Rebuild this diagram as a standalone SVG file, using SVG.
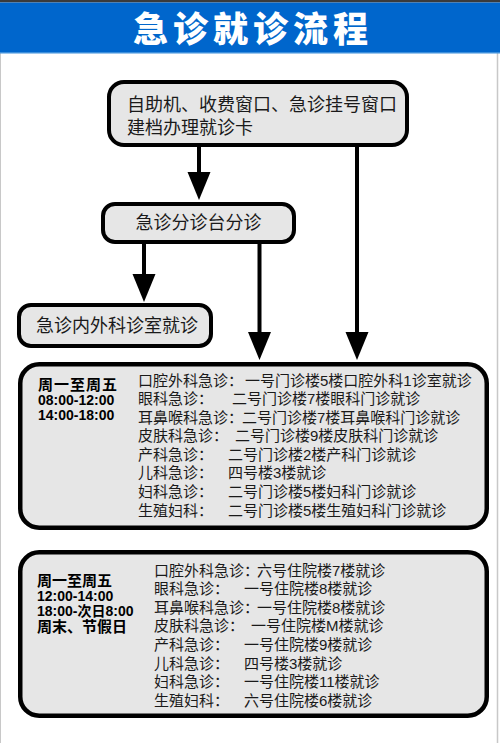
<svg xmlns="http://www.w3.org/2000/svg" width="500" height="743" viewBox="0 0 500 743">
  <style>
    .box { fill: #e6e6e6; stroke: #000; stroke-width: 4; }
    .big { fill: #e6e6e6; stroke: #000; stroke-width: 4.5; }
    .t { font-family: "Liberation Sans", "Noto Sans CJK SC", sans-serif; fill: #1a1a1a; }
    .n18 { font-size: 18px; }
    .row { font-size: 15px; }
    .hd { font-size: 15px; font-weight: bold; fill: #000; }
    .tm { font-size: 14px; font-weight: bold; fill: #000; }
    .title { font-family: "Liberation Sans", "Noto Sans CJK SC", sans-serif; font-size: 35px; font-weight: 900; fill: #fff; letter-spacing: 5px; }
    .conn { stroke: #000; stroke-width: 4; fill: none; }
  </style>
  <defs>
    <marker id="arrow" markerUnits="userSpaceOnUse" markerWidth="28" markerHeight="23" refX="18" refY="11.5" orient="auto" overflow="visible">
      <path d="M0,0 L28,11.5 L0,23 Z" fill="#000"/>
    </marker>
  </defs>
  <rect x="0" y="0" width="500" height="743" fill="#fff"/>
  <line x1="0.5" y1="53" x2="0.5" y2="743" stroke="#c8c8c8" stroke-width="1"/>
  <line x1="497.5" y1="53" x2="497.5" y2="743" stroke="#c8c8c8" stroke-width="1.5"/>

  <g id="title">
    <rect x="0" y="0" width="500" height="2.5" fill="#3a3a3a"/>
    <rect x="0" y="2.5" width="500" height="50" fill="#0066cc"/>
    <rect x="0" y="52" width="500" height="1.5" fill="#3d8fdc"/>
    <text class="title" x="253" y="41.5" text-anchor="middle">急诊就诊流程</text>
  </g>

  <g id="connectors">
    <line class="conn" x1="199" y1="147" x2="199" y2="190" marker-end="url(#arrow)"/>
    <line class="conn" x1="357" y1="147" x2="357" y2="350" marker-end="url(#arrow)"/>
    <line class="conn" x1="259.5" y1="244" x2="259.5" y2="350" marker-end="url(#arrow)"/>
    <line class="conn" x1="144" y1="244" x2="144" y2="292" marker-end="url(#arrow)"/>
  </g>

  <g id="node-register">
    <rect class="box" x="109" y="82" width="298" height="63" rx="15"/>
    <text class="t n18" x="127" y="111">自助机、收费窗口、急诊挂号窗口</text>
    <text class="t n18" x="127" y="133.5">建档办理就诊卡</text>
  </g>

  <g id="node-triage">
    <rect class="box" x="103" y="204" width="191" height="38" rx="12"/>
    <text class="t n18" x="198.5" y="228.5" text-anchor="middle">急诊分诊台分诊</text>
  </g>

  <g id="node-internal">
    <rect class="box" x="19" y="305" width="192" height="41" rx="12"/>
    <text class="t n18" x="36" y="332">急诊内外科诊室就诊</text>
  </g>

  <g id="node-weekday">
    <rect class="big" x="20.25" y="364.25" width="466.5" height="163.5" rx="19"/>
    <text class="t hd" x="38" y="389.5" letter-spacing="1">周一至周五</text>
    <text class="t tm" x="38" y="405">08:00-12:00</text>
    <text class="t tm" x="38" y="420">14:00-18:00</text>
    <text class="t row" y="385.5"><tspan x="138">口腔外科急诊：</tspan><tspan x="245">一号门诊楼5楼口腔外科1诊室就诊</tspan></text>
    <text class="t row" y="404"><tspan x="138">眼科急诊：</tspan><tspan x="232">二号门诊楼7楼眼科门诊就诊</tspan></text>
    <text class="t row" y="422.6"><tspan x="138">耳鼻喉科急诊：</tspan><tspan x="242">二号门诊楼7楼耳鼻喉科门诊就诊</tspan></text>
    <text class="t row" y="441.2"><tspan x="138">皮肤科急诊：</tspan><tspan x="235">二号门诊楼9楼皮肤科门诊就诊</tspan></text>
    <text class="t row" y="459.8"><tspan x="138">产科急诊：</tspan><tspan x="228">二号门诊楼2楼产科门诊就诊</tspan></text>
    <text class="t row" y="478.4"><tspan x="138">儿科急诊：</tspan><tspan x="228">四号楼3楼就诊</tspan></text>
    <text class="t row" y="497"><tspan x="138">妇科急诊：</tspan><tspan x="228">二号门诊楼5楼妇科门诊就诊</tspan></text>
    <text class="t row" y="515.6"><tspan x="138">生殖妇科：</tspan><tspan x="228">二号门诊楼5楼生殖妇科门诊就诊</tspan></text>
  </g>

  <g id="node-offhours">
    <rect class="big" x="20.25" y="552.25" width="466.5" height="163.5" rx="19"/>
    <text class="t hd" x="37" y="585.5">周一至周五</text>
    <text class="t tm" x="37" y="600.5">12:00-14:00</text>
    <text class="t tm" x="37" y="615.5">18:00-次日8:00</text>
    <text class="t hd" x="37" y="632">周末、节假日</text>
    <text class="t row" y="575.5"><tspan x="154">口腔外科急诊：</tspan><tspan x="257">六号住院楼7楼就诊</tspan></text>
    <text class="t row" y="594.1"><tspan x="154">眼科急诊：</tspan><tspan x="244">一号住院楼8楼就诊</tspan></text>
    <text class="t row" y="612.7"><tspan x="154">耳鼻喉科急诊：</tspan><tspan x="257">一号住院楼8楼就诊</tspan></text>
    <text class="t row" y="631.3"><tspan x="154">皮肤科急诊：</tspan><tspan x="251">一号住院楼M楼就诊</tspan></text>
    <text class="t row" y="649.9"><tspan x="154">产科急诊：</tspan><tspan x="244">一号住院楼9楼就诊</tspan></text>
    <text class="t row" y="668.5"><tspan x="154">儿科急诊：</tspan><tspan x="244">四号楼3楼就诊</tspan></text>
    <text class="t row" y="687.1"><tspan x="154">妇科急诊：</tspan><tspan x="244">一号住院楼11楼就诊</tspan></text>
    <text class="t row" y="705.7"><tspan x="154">生殖妇科：</tspan><tspan x="244">六号住院楼6楼就诊</tspan></text>
  </g>
</svg>
